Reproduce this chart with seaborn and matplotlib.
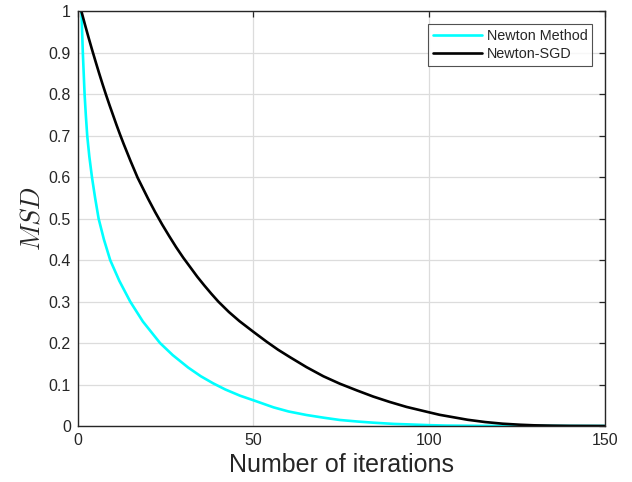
import numpy as np
import pandas as pd
import seaborn as sns
import matplotlib
matplotlib.use("Agg")
import matplotlib.pyplot as plt

# Data
newton_x = [1, 1.2, 1.4, 1.65, 1.9, 2.25, 2.65, 3.25, 4.0, 4.9, 5.9, 7.4, 9.2, 11.8,
            14.9, 18.5, 23.4, 27, 31.4, 35, 38.5, 42, 46.2, 50, 55.7, 60, 65.1, 70,
            74.6, 80, 84.1, 90, 93.6, 100, 105, 115, 150]
newton_y = [1.0, 0.95, 0.9, 0.85, 0.8, 0.75, 0.7, 0.65, 0.6, 0.55, 0.5, 0.45, 0.4, 0.35,
            0.3, 0.252, 0.2, 0.171, 0.141, 0.12, 0.103, 0.088, 0.073, 0.062, 0.045,
            0.035, 0.0265, 0.02, 0.0145, 0.0105, 0.008, 0.005, 0.004, 0.002, 0.001,
            0.0003, 0.0]

sgd_x = [1, 2, 3, 4, 5, 6, 7, 8, 9, 10, 11, 12, 13, 14, 15, 16, 17, 18, 19, 20, 22,
         24, 26, 28, 30, 32, 34, 36, 38, 40, 43, 46, 50, 53.8, 57, 60.4, 65.1, 69.9,
         74.6, 79.4, 84.1, 88.8, 93.6, 100, 103, 107, 111, 116, 121, 126, 130, 135,
         140, 150]
sgd_y = [1.0, 0.9685, 0.938, 0.9085, 0.88, 0.852, 0.825, 0.799, 0.774, 0.75, 0.726,
         0.703, 0.681, 0.66, 0.639, 0.619, 0.599, 0.582, 0.565, 0.548, 0.516, 0.486,
         0.458, 0.431, 0.406, 0.383, 0.36, 0.339, 0.319, 0.3, 0.275, 0.253, 0.227,
         0.203, 0.184, 0.166, 0.142, 0.12, 0.102, 0.086, 0.071, 0.058, 0.046, 0.033,
         0.027, 0.021, 0.015, 0.0095, 0.0055, 0.003, 0.0016, 0.0008, 0.0003, 0.0]

series_names = ["Newton Method", "Newton-SGD"]
series_colors = ["#00FFFF", "#000000"]
x_ticks = [0, 50, 100, 150]
y_ticks = [0, 0.1, 0.2, 0.3, 0.4, 0.5, 0.6, 0.7, 0.8, 0.9, 1]
y_tick_labels = ["0", "0.1", "0.2", "0.3", "0.4", "0.5", "0.6", "0.7", "0.8", "0.9", "1"]

df = pd.concat([
    pd.DataFrame({"x": newton_x, "y": newton_y, "method": series_names[0]}),
    pd.DataFrame({"x": sgd_x, "y": sgd_y, "method": series_names[1]}),
], ignore_index=True)

sns.set_theme(style="white")
plt.rcParams["font.family"] = ["Liberation Sans", "DejaVu Sans"]
plt.rcParams["mathtext.fontset"] = "cm"

fig = plt.figure(figsize=(6.32, 4.82), dpi=100)
ax = fig.add_axes([0.1233, 0.1162, 0.8333, 0.8600])

sns.lineplot(data=df, x="x", y="y", hue="method", palette=dict(zip(series_names, series_colors)),
             linewidth=1.9, ax=ax, sort=False, estimator=None)
for ln in ax.get_lines():
    ln.set_solid_joinstyle("round")

ax.set_xlim(0, 150)
ax.set_ylim(0, 1)
ax.set_xticks(x_ticks)
ax.set_yticks(y_ticks)
ax.set_yticklabels(y_tick_labels)

ax.grid(True, color="#dcdcdc", linewidth=0.9)
ax.set_axisbelow(True)
for s in ax.spines.values():
    s.set_color("#262626")
    s.set_linewidth(1.0)
ax.tick_params(direction="in", length=4, width=0.9, color="#262626",
               top=True, right=True, labelsize=11.5, labelcolor="#262626", pad=5)

ax.set_xlabel("Number of iterations", fontsize=18, color="#262626", labelpad=4)
ax.set_ylabel("$MSD$", fontsize=19, color="#262626", labelpad=3)

leg = ax.legend(loc="upper right", bbox_to_anchor=(0.977, 0.970), borderaxespad=0,
                fontsize=10.4, frameon=True, fancybox=False, edgecolor="#262626",
                handlelength=3.4, handletextpad=0.3, borderpad=0.35, labelspacing=0.3)
leg.get_frame().set_linewidth(0.8)
for h in leg.get_lines():
    h.set_linewidth(1.9)

fig.savefig("out.png", dpi=100, facecolor="white")
